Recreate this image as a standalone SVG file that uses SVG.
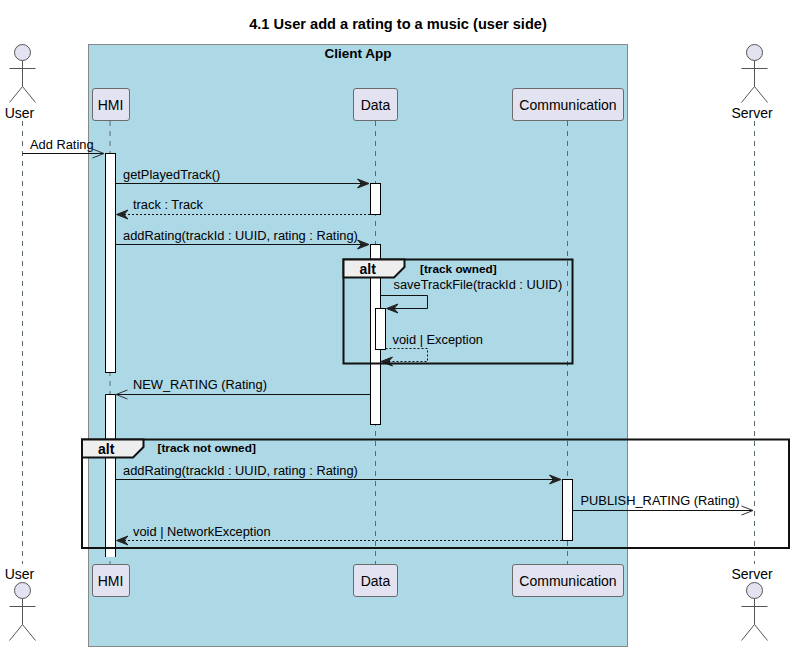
<svg xmlns="http://www.w3.org/2000/svg" width="793" height="651" viewBox="0 0 793 651">
<style>
text{font-family:"Liberation Sans",Arial,sans-serif;fill:#000}
.t{font-size:12.85px}
.n{font-size:14px}
.b{font-weight:bold}
.life{stroke:#5a6a70;stroke-width:1;stroke-dasharray:5 5;fill:none}
.part{fill:#E2E2F0;stroke:#6b6b6b;stroke-width:1}
.act{fill:#fff;stroke:#000;stroke-width:1}
.actor{fill:none;stroke:#555;stroke-width:1}
.head{fill:#E2E2F0;stroke:#555;stroke-width:1}
.msg{fill:none;stroke:#111;stroke-width:1}
.dash{stroke-dasharray:2 2}
.frame{fill:none;stroke:#111;stroke-width:2}
.tab{fill:#EEEEEE;stroke:#111;stroke-width:2}
.arr{fill:#222;stroke:#222;stroke-width:1}
.open{fill:none;stroke:#333;stroke-width:1}
</style>
<defs>
<g id="actor"><circle class="head" cx="0" cy="8" r="8"/><path class="actor" d="M0 16V42M-13 24H13M0 42L-13 58M0 42L13 58"/></g>
</defs>
<text class="b" x="398" y="29" text-anchor="middle" font-size="14.6">4.1 User add a rating to a music (user side)</text>
<g id="client-app"><rect x="88.5" y="44.5" width="539" height="602" fill="#ADD8E6" stroke="#888" stroke-width="1"/><text class="b" font-size="13.5" x="358" y="58" text-anchor="middle">Client App</text></g>
<g id="connectors">
<path class="life" d="M22.5 121V564M110 121V564M375.5 121V564M567.5 121V564M754.5 121V564"/>
</g>
<g id="activations">
<rect class="act" x="105.5" y="153.5" width="10" height="219"/>
<path class="act" d="M105.5 557V394.5H115.5V557"/>
<rect class="act" x="370.5" y="183.5" width="10" height="31"/>
<rect class="act" x="370.5" y="244.5" width="10" height="180"/>
<rect class="act" x="375.5" y="308.5" width="10" height="41"/>
<rect class="act" x="562.5" y="479.5" width="10" height="61"/>
</g>
<g id="user"><use href="#actor" x="22.5" y="44.5"/><text class="n" x="19.5" y="118" text-anchor="middle">User</text></g>
<g id="hmi"><rect class="part" x="92.5" y="88.5" width="37" height="32" rx="2.5"/><text class="n" x="110.5" y="110" text-anchor="middle">HMI</text></g>
<g id="data"><rect class="part" x="353.5" y="88.5" width="44" height="32" rx="2.5"/><text class="n" x="375.5" y="110" text-anchor="middle">Data</text></g>
<g id="communication"><rect class="part" x="512.5" y="88.5" width="111" height="32" rx="2.5"/><text class="n" x="568" y="110" text-anchor="middle">Communication</text></g>
<g id="server"><use href="#actor" x="754.5" y="44.5"/><text class="n" x="752" y="118" text-anchor="middle">Server</text></g>
<g id="messages">
<path class="msg" d="M22.5 153.5H104"/><path class="open" d="M92.5 149L104 153.5L92.5 158"/><text class="t" x="30" y="149">Add Rating</text>
<path class="msg" d="M116 183.5H368"/><path class="arr" d="M369 183.5L357.5 179L361.5 183.5L357.5 188Z"/><text class="t" x="123" y="179">getPlayedTrack()</text>
<path class="msg dash" d="M370 214.5H118"/><path class="arr" d="M116.5 214.5L128 210L124 214.5L128 219Z"/><text class="t" x="133" y="209">track : Track</text>
<path class="msg" d="M116 244.5H368"/><path class="arr" d="M369 244.5L357.5 240L361.5 244.5L357.5 249Z"/><text class="t" x="123" y="240">addRating(trackId : UUID, rating : Rating)</text>
<path class="msg" d="M380.5 295.5H427.5V308.5H388"/><path class="arr" d="M386.5 308.5L398 304L394 308.5L398 313Z"/><text class="t" x="393.5" y="289">saveTrackFile(trackId : UUID)</text>
<path class="msg dash" d="M385.5 348.5H427.5V361.5H383"/><path class="arr" d="M381 361.5L392.5 357L388.5 361.5L392.5 366Z"/><text class="t" x="392.5" y="344">void | Exception</text>
<path class="msg" d="M370 394.5H117"/><path class="open" d="M127.5 390L116 394.5L127.5 399"/><text class="t" x="133" y="389">NEW_RATING (Rating)</text>
<path class="msg" d="M116 479.5H559"/><path class="arr" d="M561 479.5L549.5 475L553.5 479.5L549.5 484Z"/><text class="t" x="123" y="475">addRating(trackId : UUID, rating : Rating)</text>
<path class="msg" d="M573 510.5H753"/><path class="open" d="M741.5 506L753 510.5L741.5 515"/><text class="t" x="580.5" y="505">PUBLISH_RATING (Rating)</text>
<path class="msg dash" d="M562 540.5H118"/><path class="arr" d="M116.5 540.5L128 536L124 540.5L128 545Z"/><text class="t" x="133" y="536">void | NetworkException</text>
</g>
<g id="alt-owned"><rect class="frame" x="343.5" y="259.5" width="229" height="104"/><path class="tab" d="M343.5 259.5H404.5V267L394 277.5H343.5Z"/><text class="b" font-size="14" x="359.5" y="274">alt</text><text class="b" font-size="11.8" x="420" y="272.5">[track owned]</text></g>
<g id="alt-not-owned"><rect class="frame" x="82" y="439.5" width="707" height="108.5"/><path class="tab" d="M82 439.5H143.5V447L133 457.5H82Z"/><text class="b" font-size="14" x="98" y="454">alt</text><text class="b" font-size="11.8" x="157.5" y="452">[track not owned]</text></g>
<g id="hmi-bottom"><rect class="part" x="92.5" y="564.5" width="37" height="32" rx="2.5"/><text class="n" x="110.5" y="586" text-anchor="middle">HMI</text></g>
<g id="data-bottom"><rect class="part" x="353.5" y="564.5" width="44" height="32" rx="2.5"/><text class="n" x="375.5" y="586" text-anchor="middle">Data</text></g>
<g id="communication-bottom"><rect class="part" x="512.5" y="564.5" width="111" height="32" rx="2.5"/><text class="n" x="568" y="586" text-anchor="middle">Communication</text></g>
<g id="user-bottom"><text class="n" x="19.5" y="579" text-anchor="middle">User</text><use href="#actor" x="22.5" y="582.5"/></g>
<g id="server-bottom"><text class="n" x="752" y="579" text-anchor="middle">Server</text><use href="#actor" x="754.5" y="582.5"/></g>
</svg>
